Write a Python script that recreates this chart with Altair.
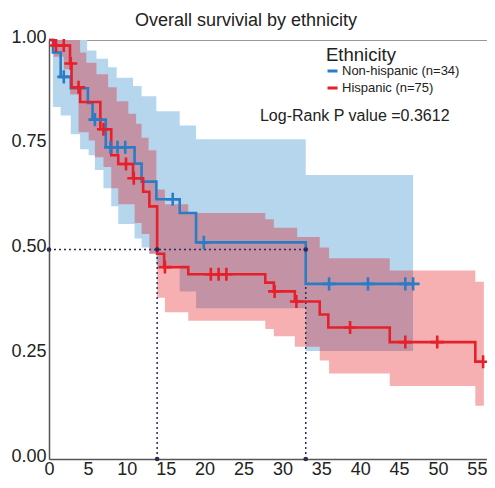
import altair as alt
import pandas as pd

GROUPS = ["Non-hispanic (n=34)", "Hispanic (n=75)"]
BLUE = "#2b7cc6"
RED = "#e6202a"
BLUE_BAND = "#b6d6ee"
RED_BAND = "#e20003"
NAVY = "#2b2b55"

# Kaplan-Meier step curves (time in months, survival probability)
blue_t = [0, 0.5, 1.5, 2.8, 5.0, 5.6, 7.3, 11.0, 11.9, 13.8, 16.8, 18.9, 33.0]
blue_s = [1.0, 0.97, 0.912, 0.885, 0.85, 0.81, 0.744, 0.705, 0.662, 0.62, 0.587, 0.517, 0.418]
blue_end = 46.8
blue_cens = [1.9, 5.9, 7.9, 8.8, 9.8, 15.9, 19.9, 36.0, 41.0, 45.8, 46.8]

red_t = [0, 0.6, 2.7, 2.9, 4.0, 6.6, 8.0, 8.9, 10.8, 12.1, 12.9, 13.9, 14.8, 17.9,
         27.8, 28.9, 31.6, 34.8, 35.9, 43.8, 54.8]
red_s = [1.0, 0.987, 0.944, 0.887, 0.852, 0.787, 0.725, 0.704, 0.67, 0.638, 0.603, 0.49,
         0.458, 0.441, 0.421, 0.40, 0.376, 0.345, 0.314, 0.279, 0.232]
red_end = 55.9
red_cens = [0.9, 1.9, 2.8, 3.8, 7.0, 9.9, 10.9, 14.9, 20.8, 21.8, 22.8, 29.0, 31.8,
            38.7, 45.8, 49.9, 55.8]

# Confidence bands (upper / lower step functions)
blue_hi_t = [0, 4.9, 6.1, 7.6, 8.7, 10.8, 11.9, 13.8, 16.8, 18.9, 33.0]
blue_hi_v = [1.0, 0.975, 0.955, 0.935, 0.91, 0.89, 0.866, 0.83, 0.796, 0.763, 0.678]
blue_lo_t = [0, 0.5, 1.5, 2.8, 4.0, 5.1, 5.9, 7.0, 8.0, 8.9, 11.0, 11.9, 12.9, 13.8, 16.8, 18.9, 33.0]
blue_lo_v = [1.0, 0.84, 0.82, 0.775, 0.739, 0.725, 0.69, 0.646, 0.603, 0.561, 0.526, 0.505,
             0.49, 0.462, 0.40, 0.36, 0.258]

red_hi_t = [0, 4.0, 4.8, 6.1, 7.6, 8.7, 10.2, 11.2, 11.9, 12.8, 13.8, 14.9, 17.9, 27.8,
            28.9, 31.9, 34.8, 36.0, 43.8, 54.8]
red_hi_v = [1.0, 0.97, 0.946, 0.918, 0.887, 0.854, 0.824, 0.80, 0.767, 0.737, 0.643, 0.608,
            0.587, 0.572, 0.552, 0.53, 0.505, 0.479, 0.45, 0.423]
red_lo_t = [0, 0.6, 1.9, 2.7, 3.8, 5.1, 5.9, 7.0, 8.0, 8.9, 11.0, 11.9, 12.9, 13.9, 14.9,
            17.9, 27.8, 28.9, 31.6, 34.8, 36.0, 43.8, 54.8]
red_lo_v = [1.0, 0.96, 0.93, 0.87, 0.78, 0.76, 0.72, 0.697, 0.646, 0.608, 0.563, 0.537,
            0.49, 0.385, 0.35, 0.33, 0.31, 0.293, 0.268, 0.235, 0.204, 0.174, 0.127]

# Median survival times
median_t = [13.9, 33.0]
x_ticks = [0, 5, 10, 15, 20, 25, 30, 35, 40, 45, 50, 55]
y_ticks = [0.0, 0.25, 0.50, 0.75, 1.0]
pvalue_text = "Log-Rank P value =0.3612"


def step_val(ts, vs, t):
    v = vs[0]
    for ti, vi in zip(ts, vs):
        if ti <= t + 1e-9:
            v = vi
        else:
            break
    return v


def curve_frame(ts, vs, end, name):
    rows = [dict(t=t, s=s, group=name) for t, s in zip(ts, vs)]
    rows.append(dict(t=end, s=vs[-1], group=name))
    return rows


def band_frame(hi_t, hi_v, lo_t, lo_v, end):
    times = sorted(set(hi_t) | set(lo_t))
    rows = [dict(t=t, hi=step_val(hi_t, hi_v, t), lo=step_val(lo_t, lo_v, t)) for t in times]
    rows.append(dict(t=end, hi=rows[-1]["hi"], lo=rows[-1]["lo"]))
    return pd.DataFrame(rows)


def cens_frame(ct, ts, vs):
    return pd.DataFrame([dict(t=c, s=step_val(ts, vs, c)) for c in ct])


lines_df = pd.DataFrame(curve_frame(blue_t, blue_s, blue_end, GROUPS[0]) +
                        curve_frame(red_t, red_s, red_end, GROUPS[1]))
blue_band_df = band_frame(blue_hi_t, blue_hi_v, blue_lo_t, blue_lo_v, blue_end)
red_band_df = band_frame(red_hi_t, red_hi_v, red_lo_t, red_lo_v, red_end)
blue_cens_df = cens_frame(blue_cens, blue_t, blue_s)
red_cens_df = cens_frame(red_cens, red_t, red_s)

rules_df = pd.DataFrame([
    dict(x=0, x2=max(median_t), y=0.5, y2=0.5),
    dict(x=median_t[0], x2=median_t[0], y=0.0, y2=0.5),
    dict(x=median_t[1], x2=median_t[1], y=0.0, y2=0.5),
])
dots_df = pd.DataFrame([dict(x=0, y=0.5)] +
                       [dict(x=m, y=0.5) for m in median_t] +
                       [dict(x=m, y=0.0) for m in median_t])
text_df = pd.DataFrame([dict(x=39.3, y=0.807, label=pvalue_text)])

FONT = "Liberation Sans"
x_scale = alt.Scale(domain=[0, 56.3], nice=False, zero=False)
y_scale = alt.Scale(domain=[0, 1], nice=False)
x_axis = alt.Axis(values=x_ticks, title=None, labelFontSize=18, labelFont=FONT,
                  labelColor="#222", labelFlush=False, labelOverlap=False, labelBound=False,
                  ticks=False, labelPadding=1, grid=False, domainColor="#555", domainWidth=1.5)
y_axis = alt.Axis(values=y_ticks, format=".2f", title=None, labelFontSize=18, labelFont=FONT,
                  labelColor="#222", ticks=False, labelPadding=3, labelBaseline="alphabetic",
                  labelOffset=2, labelOverlap=False, grid=False, domainColor="#555",
                  domainWidth=1.5)

X = alt.X("t:Q", scale=x_scale, axis=x_axis)
Y = alt.Y("s:Q", scale=y_scale, axis=y_axis)

blue_band = alt.Chart(blue_band_df).mark_area(interpolate="step-after", color=BLUE_BAND, opacity=1).encode(
    x=alt.X("t:Q", scale=x_scale, axis=x_axis), y=alt.Y("hi:Q", scale=y_scale, axis=y_axis), y2="lo:Q")
red_band = alt.Chart(red_band_df).mark_area(interpolate="step-after", color=RED_BAND, opacity=0.31).encode(
    x=alt.X("t:Q", scale=x_scale, axis=x_axis), y=alt.Y("hi:Q", scale=y_scale, axis=y_axis), y2="lo:Q")

rules = alt.Chart(rules_df).mark_rule(color=NAVY, strokeDash=[2, 3], strokeWidth=1.5).encode(
    x=alt.X("x:Q", scale=x_scale, axis=x_axis), x2="x2:Q",
    y=alt.Y("y:Q", scale=y_scale, axis=y_axis), y2="y2:Q")

lines = alt.Chart(lines_df).mark_line(interpolate="step-after", strokeWidth=2.6).encode(
    x=X, y=Y,
    color=alt.Color("group:N", scale=alt.Scale(domain=GROUPS, range=[BLUE, RED]),
                    legend=alt.Legend(title="Ethnicity", orient="none", legendX=277, legendY=6,
                                      titleFontSize=18.5, titleFontWeight="normal", titleFont=FONT,
                                      titleColor="#222", labelFontSize=13, labelFont=FONT,
                                      labelColor="#222", symbolType="stroke", symbolSize=100,
                                      symbolStrokeWidth=3, rowPadding=3, titlePadding=0,
                                      labelOffset=3)),
    order=alt.Order("t:Q"))

CROSS = "M-1,0L1,0M0,-1L0,1"
blue_x = alt.Chart(blue_cens_df).mark_point(shape=CROSS, size=170, strokeWidth=2.6, color=BLUE,
                                             filled=False, opacity=1).encode(x=X, y=Y)
red_x = alt.Chart(red_cens_df).mark_point(shape=CROSS, size=170, strokeWidth=2.6, color=RED,
                                           filled=False, opacity=1).encode(x=X, y=Y)

dots = alt.Chart(dots_df).mark_circle(color=NAVY, size=22, opacity=1).encode(
    x=alt.X("x:Q", scale=x_scale, axis=x_axis), y=alt.Y("y:Q", scale=y_scale, axis=y_axis))

ptext = alt.Chart(text_df).mark_text(fontSize=16, font=FONT, color="#222", align="center",
                                     baseline="alphabetic").encode(
    x=alt.X("x:Q", scale=x_scale, axis=x_axis), y=alt.Y("y:Q", scale=y_scale, axis=y_axis),
    text="label:N")

chart = alt.layer(blue_band, red_band, rules, lines, blue_x, red_x, dots, ptext).properties(
    width=438, height=419,
    padding={"left": 41, "top": 32, "right": 0, "bottom": 19},
    autosize=alt.AutoSizeParams(type="none"),
    title=alt.TitleParams("Overall survivial by ethnicity", fontSize=18, fontWeight="normal",
                          font=FONT, color="#222", anchor="middle", dx=-22, offset=-2),
).configure_view(stroke="#999", strokeWidth=1).configure_axis(labelOverlap=False)

chart.save("out.html", embed_options={"renderer": "svg", "actions": False})
